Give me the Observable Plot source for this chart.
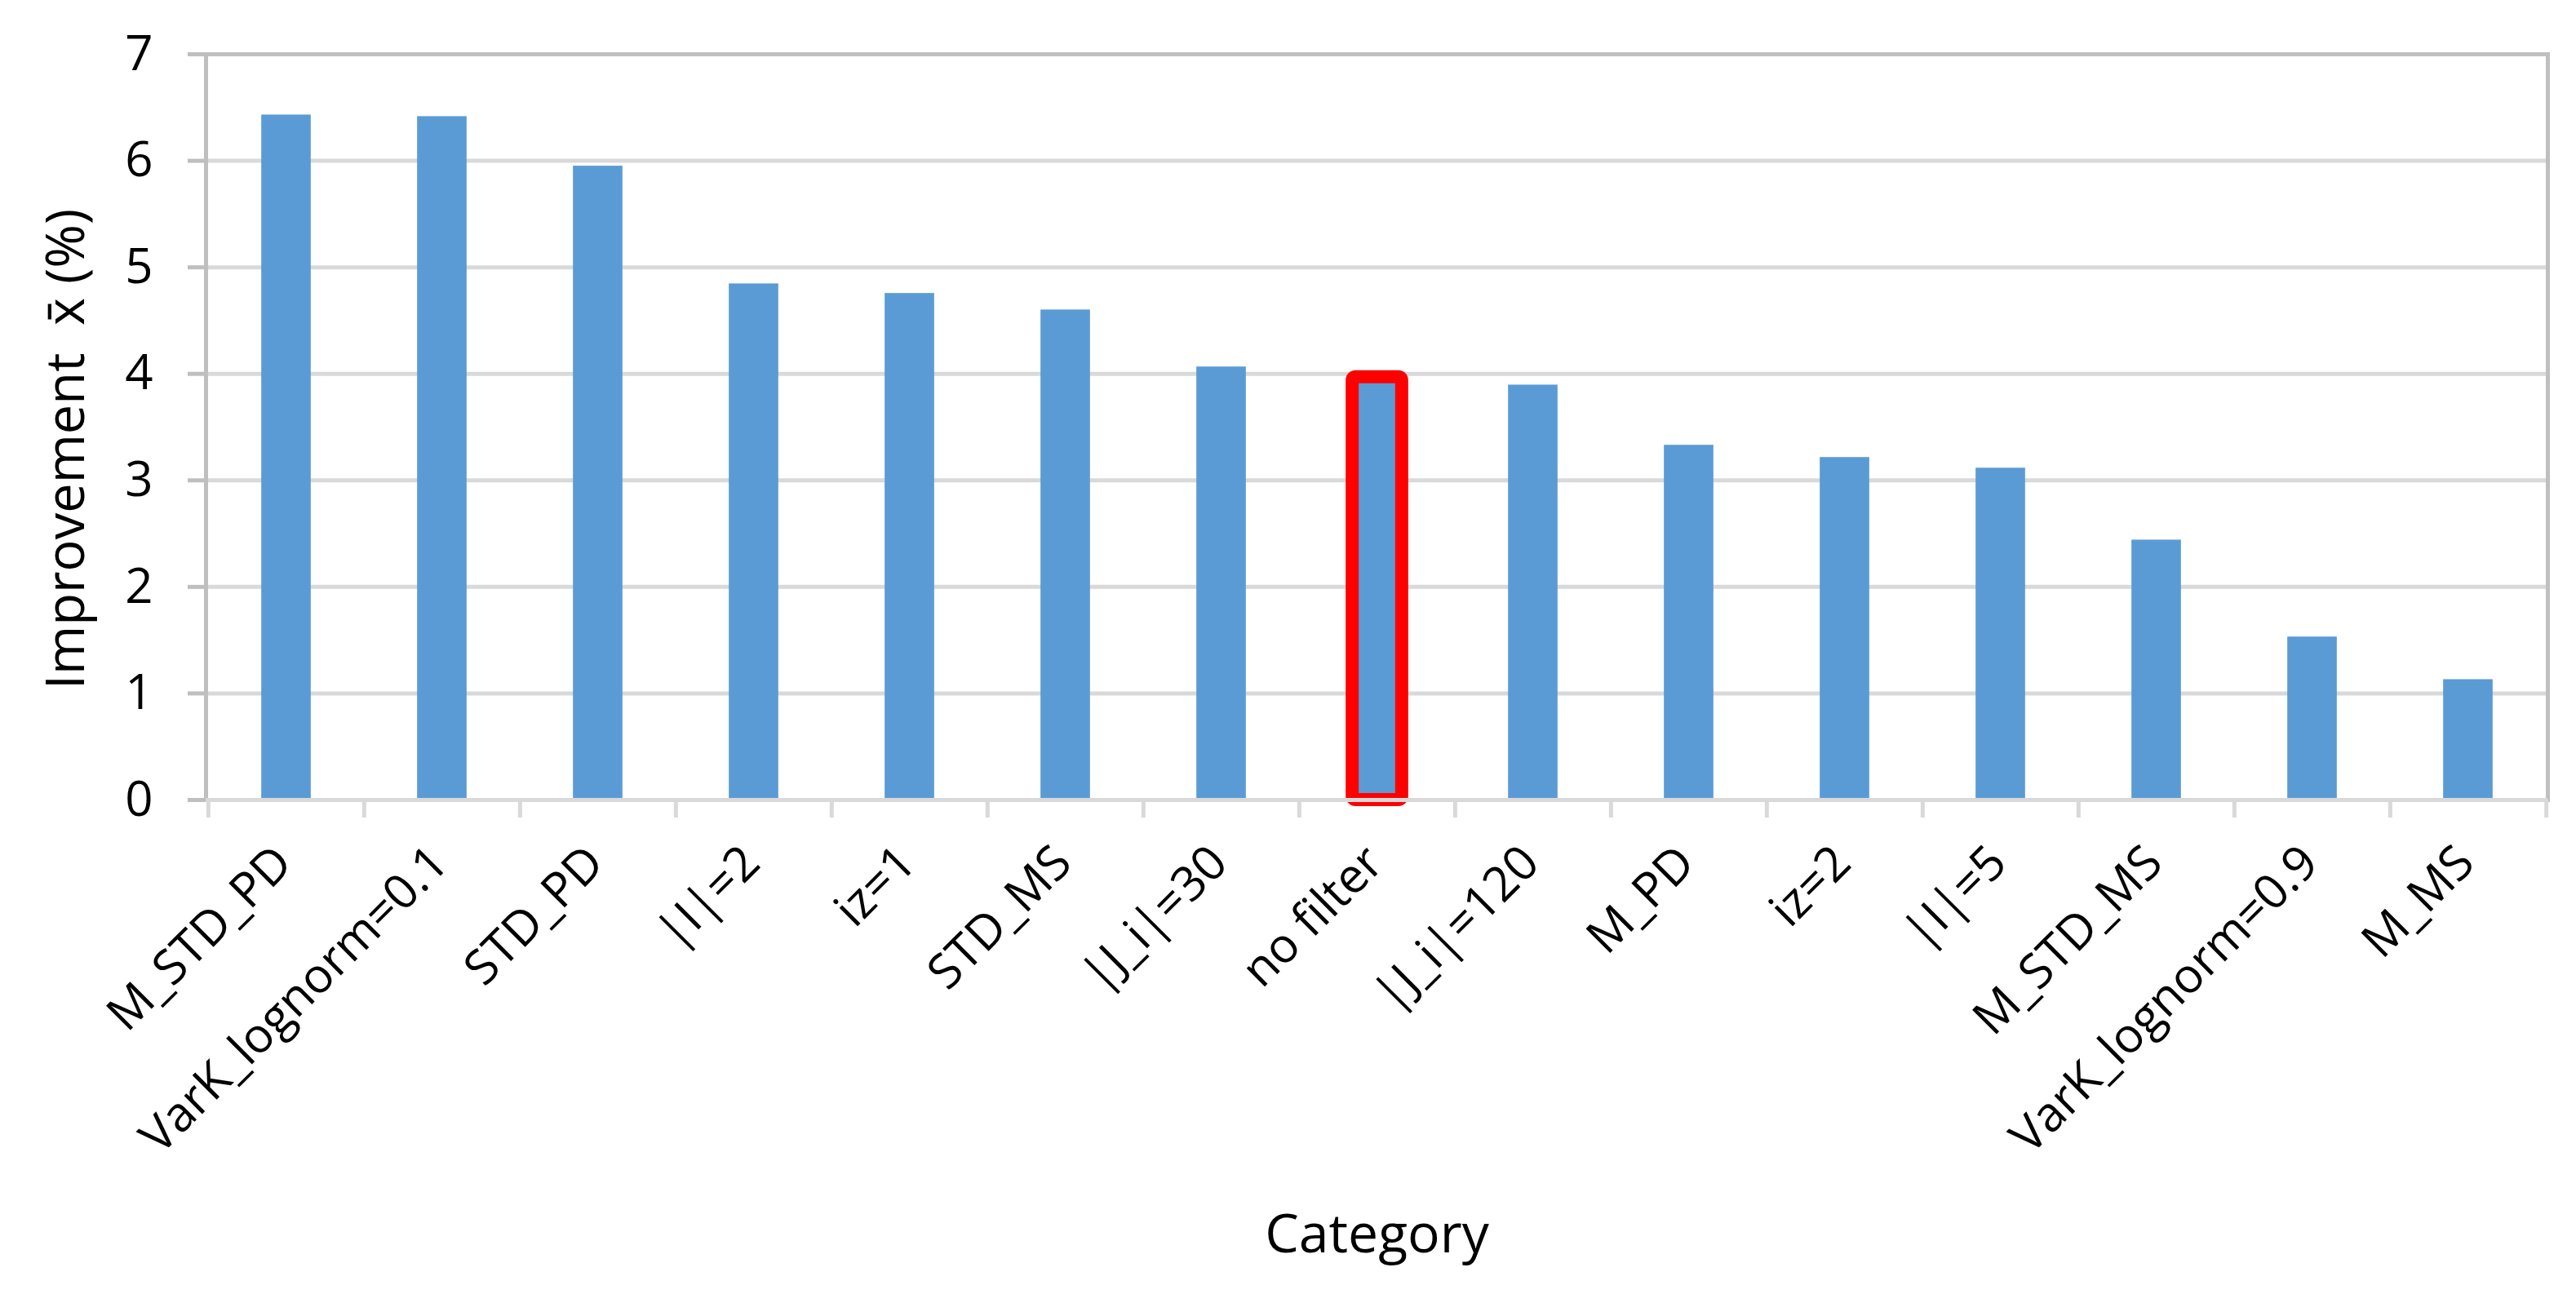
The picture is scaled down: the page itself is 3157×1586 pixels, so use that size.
<!DOCTYPE html>
<html><head><meta charset="utf-8">
<script src="https://cdn.jsdelivr.net/npm/d3@7"></script>
<script src="https://cdn.jsdelivr.net/npm/@observablehq/plot@0.6"></script>
<style>html,body{margin:0;padding:0;background:#fff} svg{display:block}</style>
</head><body><div id="chart"></div>
<script>
const categories = ["M_STD_PD","VarK_lognorm=0.1","STD_PD","|I|=2","iz=1","STD_MS","|J_i|=30","no filter","|J_i|=120","M_PD","iz=2","|I|=5","M_STD_MS","VarK_lognorm=0.9","M_MS"];
const improvement = [6.43,6.415,5.95,4.845,4.755,4.60,4.065,3.97,3.895,3.33,3.215,3.115,2.44,1.53,1.13];
const yTicks = [0,1,2,3,4,5,6,7];
const gridTicks = [1,2,3,4,5,6];
const highlighted = ["no filter"];
const yLabel = "Improvement\u00a0 x\u0304 (%)";
const xLabel = "Category";

const data = categories.map((c, i) => ({category: c, value: improvement[i]}));
const W = 3157, H = 1586, mL = 252, mR = 35, mT = 66, mB = 606;
const step = (W - mL - mR) / categories.length;
const barW = 61;
const inset = (step - barW) / 2;
const font = "Open Sans";

const chart = Plot.plot({
  width: W, height: H,
  marginLeft: mL, marginRight: mR, marginTop: mT, marginBottom: mB,
  style: {fontFamily: font, fontSize: "60px", color: "#000", background: "#fff"},
  x: {type: "band", domain: categories, padding: 0, label: null},
  y: {domain: [0, 7], label: null},
  marks: [
    Plot.gridY(gridTicks, {stroke: "#d9d9d9", strokeOpacity: 1, strokeWidth: 5}),
    Plot.frame({stroke: "#bfbfbf", strokeWidth: 5}),
    Plot.barY(data, {x: "category", y: "value", fill: "#5b9bd5", insetLeft: inset, insetRight: inset}),
    Plot.barY(data.filter(d => highlighted.includes(d.category)), {x: "category", y: "value", fill: "none", stroke: "#ff0000", strokeWidth: 16, rx: 4, insetLeft: inset, insetRight: inset}),
    Plot.ruleY([0], {stroke: "#d9d9d9", strokeWidth: 5}),
    Plot.axisY({ticks: yTicks, tickFormat: d3.format("d"), tickSize: 22, tickPadding: 43, stroke: "#bfbfbf", strokeWidth: 5, fill: "#000", fontSize: 60, label: null}),
    Plot.axisX({ticks: categories, tickSize: 22, tickFormat: () => "", dx: -step / 2, stroke: "#d9d9d9", strokeWidth: 5, label: null}),
    Plot.axisX({ticks: categories.slice(-1), tickSize: 22, tickFormat: () => "", dx: step / 2, stroke: "#d9d9d9", strokeWidth: 5, label: null}),
    Plot.axisX({ticks: categories, tickSize: 0, tickPadding: 67, dx: -3, tickRotate: -45, fill: "#000", fontSize: 59, label: null}),
    Plot.text([yLabel], {frameAnchor: "left", rotate: -90, dx: -196, dy: 27, textAnchor: "middle", lineAnchor: "top", fontSize: 65, fill: "#000"}),
    Plot.text([xLabel], {frameAnchor: "bottom", dy: 554, textAnchor: "middle", lineAnchor: "bottom", fontSize: 66, fill: "#000"})
  ]
});
document.getElementById("chart").appendChild(chart);
</script>
</body></html>
